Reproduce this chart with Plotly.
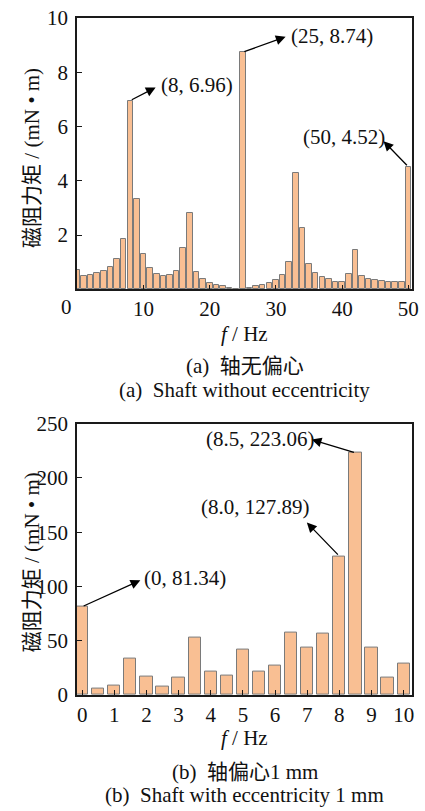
import plotly.graph_objects as go

# ---------------- data ----------------
freq_a = list(range(0, 51))
torque_a = [0.73, 0.51, 0.54, 0.61, 0.68, 0.81, 1.12, 1.85, 6.96, 3.34,
            1.30, 0.79, 0.57, 0.50, 0.53, 0.68, 1.53, 2.81, 0.65, 0.37,
            0.22, 0.16, 0.11, 0.07, 0.02, 8.74, 0.06, 0.11, 0.16, 0.22,
            0.34, 0.54, 1.00, 4.28, 2.25, 0.94, 0.61, 0.45, 0.37, 0.29,
            0.27, 0.55, 1.47, 0.51, 0.38, 0.34, 0.31, 0.29, 0.28, 0.26,
            4.52]
ticks_a_x = [10, 20, 30, 40, 50]
ticks_a_y = [2, 4, 6, 8, 10]

freq_b = [i * 0.5 for i in range(21)]
torque_b = [81.34, 5.8, 8.9, 33.6, 16.8, 8.2, 15.9, 53.1, 21.4, 18.3,
            41.8, 21.4, 27.2, 57.7, 43.7, 56.5, 127.89, 223.06, 44.0, 15.9,
            29.3]
ticks_b_x = list(range(0, 11))
ticks_b_y = [0, 50, 100, 150, 200, 250]

# peaks to annotate: (index in series, label)
peaks_a = [(8, "(8, 6.96)"), (25, "(25, 8.74)"), (50, "(50, 4.52)")]
peaks_b = [(0, "(0, 81.34)"), (16, "(8.0, 127.89)"), (17, "(8.5, 223.06)")]

ytitle = "磁阻力矩 / (mN • m)"
xtitle = "<i>f</i> / Hz"
caption_a = ["(a)  轴无偏心", "(a)  Shaft without eccentricity"]
caption_b = ["(b)  轴偏心1 mm", "(b)  Shaft with eccentricity 1 mm"]

# ---------------- style ----------------
FONT = "'Liberation Serif', 'Noto Sans CJK SC', serif"
BAR_FILL = "#F9BF93"
BAR_LINE = "#7A7A7A"
AX_COL = "#1a1a1a"
FS = 21

fig = go.Figure()
fig.add_trace(go.Bar(x=freq_a, y=torque_a, width=0.84,
                     marker=dict(color=BAR_FILL, line=dict(color=BAR_LINE, width=1)),
                     xaxis="x", yaxis="y", showlegend=False))
fig.add_trace(go.Bar(x=freq_b, y=torque_b, width=0.38,
                     marker=dict(color=BAR_FILL, line=dict(color=BAR_LINE, width=1)),
                     xaxis="x2", yaxis="y2", showlegend=False))

axis_common = dict(showline=True, linecolor=AX_COL, linewidth=1.5, mirror=True,
                   ticks="inside", ticklen=5, tickwidth=1.3, tickcolor=AX_COL,
                   showgrid=False, zeroline=False,
                   tickfont=dict(family=FONT, size=FS, color="#111"))

fig.update_layout(
    width=425, height=811,
    margin=dict(l=77, r=6, t=14, b=116),
    paper_bgcolor="white", plot_bgcolor="white",
    font=dict(family=FONT, size=FS, color="#111"),
    bargap=0,
    xaxis=dict(domain=[0, 1], anchor="y", range=[-0.05, 50.55],
               tickvals=ticks_a_x, ticktext=[str(v) for v in ticks_a_x], **axis_common),
    yaxis=dict(domain=[0.5991, 1], anchor="x", range=[0, 10],
               tickvals=ticks_a_y, ticklabelstandoff=3, **axis_common),
    xaxis2=dict(domain=[0, 1], anchor="y2", range=[-0.16, 10.26],
                tickvals=ticks_b_x, **axis_common),
    yaxis2=dict(domain=[0, 0.4009], anchor="x2", range=[0, 250],
                tickvals=ticks_b_y, ticklabelstandoff=3, **axis_common),
)

ann = []
txt_font = dict(family=FONT, size=FS, color="#111")

# head positions (layout offsets) and text positions for each callout
heads_a = [(11.83, 7.44), (31.46, 9.31), (46.25, 5.46)]
texts_a = [(12.4, 7.52, "left"), (31.9, 9.33, "left"), (46.75, 5.6, "right")]
for (i, label), (hx, hy), (tx, ty, anc) in zip(peaks_a, heads_a, texts_a):
    ann.append(dict(x=hx, y=hy, ax=freq_a[i], ay=torque_a[i], xref="x", yref="y",
                    axref="x", ayref="y", text="", showarrow=True, arrowhead=2,
                    arrowsize=1.5, arrowwidth=1.3, arrowcolor="black",
                    standoff=0, startstandoff=0))
    ann.append(dict(x=tx, y=ty, xref="x", yref="y", text=label, showarrow=False,
                    xanchor=anc, yanchor="middle", font=txt_font))

heads_b = [(1.81, 105.6), (6.99, 158.8), (7.14, 235.3)]
texts_b = [(1.87, 108.0, "left"), (7.16, 173.5, "right"), (7.3, 235.5, "right")]
for (i, label), (hx, hy), (tx, ty, anc) in zip(peaks_b, heads_b, texts_b):
    ann.append(dict(x=hx, y=hy, ax=freq_b[i], ay=torque_b[i], xref="x2", yref="y2",
                    axref="x2", ayref="y2", text="", showarrow=True, arrowhead=2,
                    arrowsize=1.5, arrowwidth=1.3, arrowcolor="black",
                    standoff=0, startstandoff=0))
    ann.append(dict(x=tx, y=ty, xref="x2", yref="y2", text=label, showarrow=False,
                    xanchor=anc, yanchor="middle", font=txt_font))

# corner "0" of the upper panel
ann.append(dict(x=-0.030, y=0.5727, xref="paper", yref="paper", text="0",
                showarrow=False, xanchor="center", yanchor="middle", font=txt_font))

# axis titles
for yc in (0.793, 0.1957):
    ann.append(dict(x=-0.135, y=yc, xref="paper", yref="paper", text=ytitle,
                    textangle=-90, showarrow=False, xanchor="center", yanchor="middle",
                    font=txt_font))
for yc in (0.5335, -0.0636):
    ann.append(dict(x=0.5, y=yc, xref="paper", yref="paper", text=xtitle,
                    showarrow=False, xanchor="center", yanchor="middle", font=txt_font))

# captions
for (c1, c2), (y1, y2) in ((caption_a, (0.4856, 0.4508)), (caption_b, (-0.113, -0.1479))):
    ann.append(dict(x=0.5, y=y1, xref="paper", yref="paper", text=c1,
                    showarrow=False, xanchor="center", yanchor="middle", font=txt_font))
    ann.append(dict(x=0.5, y=y2, xref="paper", yref="paper", text=c2,
                    showarrow=False, xanchor="center", yanchor="middle", font=txt_font))

fig.update_layout(annotations=ann)
fig.write_html(
    "out.html",
    config={"displayModeBar": False},
    post_script="document.body.style.margin='0';document.body.style.overflow='hidden';",
)
